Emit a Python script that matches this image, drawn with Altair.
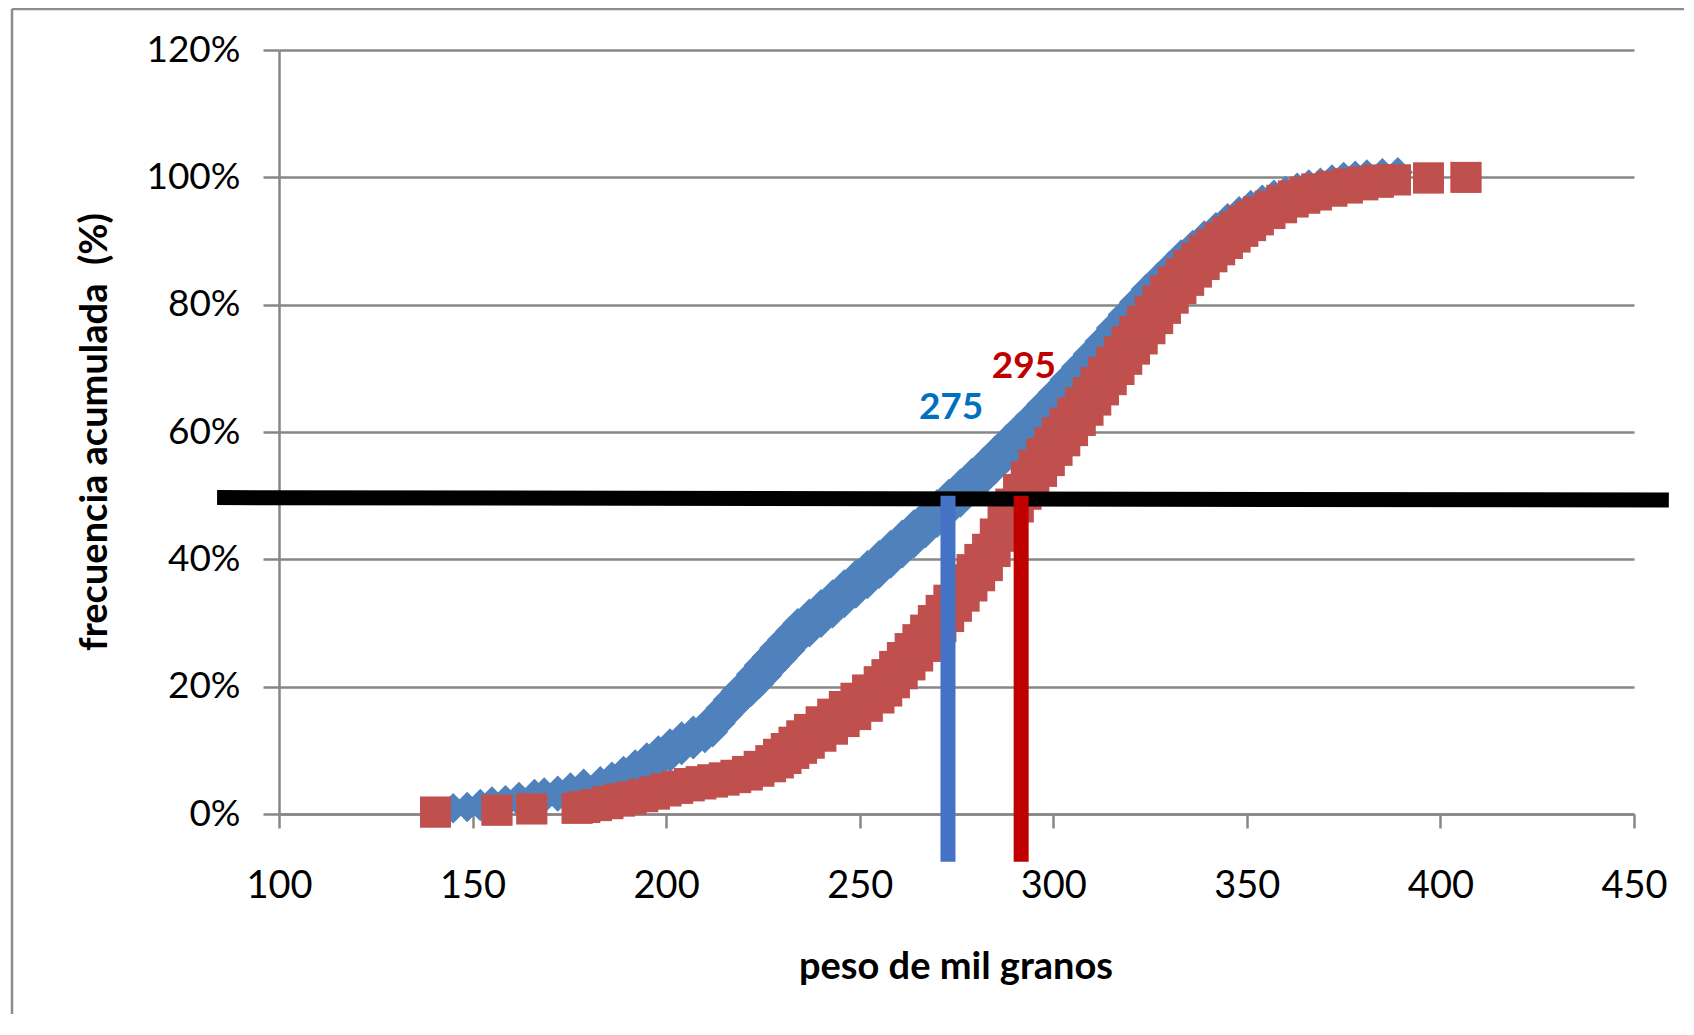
import altair as alt
import pandas as pd

# ---- data ----
# each x carries a vertical run of markers (tied values) from *_lo to *_hi (cumulative %)
blue_x = [145.0, 148.6, 152.0, 155.0, 158.5, 162.0, 166.0, 168.5, 172.0, 175.3, 178.7, 183.0, 186.0, 189.0,
          192.0, 195.0, 198.0, 201.0, 204.0, 207.0, 210.0, 212.0, 214.0, 216.0, 218.0, 220.0, 222.0, 224.0,
          226.0, 228.0, 230.0, 232.0, 234.0, 237.0, 240.0, 243.0, 246.0, 249.0, 252.0, 255.0, 258.0, 261.0,
          264.0, 267.0, 270.0, 273.0, 276.0, 279.0, 282.0, 285.0, 288.0, 291.0, 294.0, 297.0, 300.0, 303.0,
          306.0, 309.0, 312.0, 315.0, 318.0, 321.0, 324.0, 327.0, 330.0, 333.0, 336.0, 339.0, 342.0, 345.0,
          348.0, 351.0, 354.0, 357.0, 360.0, 363.0, 366.0, 369.0, 372.0, 375.0, 378.0, 381.0, 385.0, 389.0]
blue_lo = [0.9, 1.1, 1.2, 1.4, 1.6, 1.9, 2.2, 2.4, 2.7, 3.0, 3.4, 3.8, 4.3, 5.0,
           5.8, 6.7, 7.8, 8.9, 10.0, 10.9, 11.9, 12.8, 14.2, 15.6, 16.9, 18.1, 19.2, 20.4,
           21.7, 23.1, 24.4, 25.7, 27.0, 28.5, 30.0, 31.5, 33.1, 34.6, 36.1, 37.7, 39.3, 40.9,
           42.5, 44.1, 45.7, 47.3, 48.9, 50.6, 52.3, 54.1, 55.9, 57.7, 59.5, 61.4, 63.3, 65.3,
           67.3, 69.3, 71.3, 73.4, 75.5, 77.5, 79.5, 81.5, 83.5, 85.3, 87.0, 88.7, 90.2, 91.6,
           92.9, 94.1, 95.1, 96.1, 96.9, 97.6, 98.1, 98.6, 99.1, 99.5, 99.9, 100.1, 100.3, 100.8]
blue_hi = [0.9, 1.1, 1.6, 2.0, 2.2, 2.7, 3.2, 3.4, 3.7, 4.2, 4.8, 5.2, 5.9, 6.8,
           7.8, 8.9, 10.0, 11.1, 12.2, 13.1, 14.1, 15.2, 16.6, 18.0, 19.3, 20.5, 22.0, 23.4,
           24.7, 26.1, 27.4, 28.7, 30.0, 31.5, 33.0, 34.5, 36.1, 37.6, 39.1, 40.7, 42.3, 43.9,
           45.5, 47.1, 48.7, 50.3, 51.9, 53.6, 55.3, 57.1, 58.9, 60.7, 62.5, 64.4, 66.3, 68.3,
           70.3, 72.3, 74.3, 76.4, 78.5, 80.5, 82.5, 84.3, 86.1, 87.9, 89.4, 90.9, 92.2, 93.6,
           94.7, 95.7, 96.5, 97.3, 97.9, 98.4, 98.9, 99.2, 99.7, 100.1, 100.3, 100.5, 100.7, 100.8]

red_x = [140.4, 156.3, 165.3, 177.0, 179.0, 182.0, 185.0, 188.0, 191.0, 194.0, 197.0, 200.0, 203.0, 206.0,
         209.0, 212.0, 215.0, 218.0, 221.0, 224.0, 227.0, 229.0, 231.0, 233.0, 235.0, 237.0, 240.0, 243.0,
         246.0, 249.0, 252.0, 255.0, 257.0, 259.0, 261.0, 263.0, 265.0, 267.0, 269.0, 271.0, 273.0, 275.0,
         277.0, 279.0, 281.0, 283.0, 285.0, 287.0, 289.0, 291.0, 293.0, 295.0, 297.0, 299.0, 301.0, 303.0,
         305.0, 307.0, 309.0, 311.0, 313.0, 315.0, 317.0, 319.0, 321.0, 323.0, 325.0, 327.0, 329.0, 331.0,
         333.0, 335.0, 337.0, 339.0, 341.0, 343.0, 345.0, 347.0, 349.0, 351.0, 353.0, 356.0, 359.0, 362.0,
         365.0, 368.0, 372.0, 376.0, 380.0, 384.0, 388.4, 396.9, 406.6]
red_lo = [0.3, 0.6, 0.8, 0.9, 1.0, 1.3, 1.6, 2.0, 2.3, 2.7, 3.1, 3.6, 4.0, 4.4,
          4.7, 5.0, 5.3, 5.7, 6.1, 6.7, 7.4, 8.0, 8.7, 9.5, 10.3, 11.1, 12.2, 13.3,
          14.5, 15.6, 16.9, 18.2, 19.3, 20.6, 22.0, 23.4, 24.8, 26.3, 27.8, 29.4, 31.0, 32.6,
          34.2, 35.8, 37.4, 39.0, 41.2, 43.6, 45.9, 48.2, 50.2, 52.0, 53.8, 55.5, 57.1, 58.6,
          60.2, 61.8, 63.4, 65.0, 66.6, 68.2, 69.8, 71.4, 73.0, 74.6, 76.2, 77.8, 79.4, 81.0,
          82.5, 83.8, 85.1, 86.3, 87.5, 88.6, 89.6, 90.6, 91.5, 92.4, 93.3, 94.3, 95.2, 96.1,
          96.7, 97.2, 97.8, 98.3, 98.8, 99.2, 99.6, 99.9, 100.0]
red_hi = [0.3, 0.6, 0.8, 0.9, 1.2, 1.5, 2.0, 2.4, 2.7, 3.1, 3.5, 4.0, 4.4, 4.8,
          5.1, 5.4, 5.7, 6.1, 6.7, 7.5, 8.4, 9.4, 10.3, 11.3, 12.3, 13.3, 14.5, 15.7,
          16.9, 18.2, 19.5, 20.8, 21.9, 23.2, 24.6, 26.0, 27.4, 28.9, 30.4, 32.0, 33.6, 35.2,
          36.8, 38.4, 40.0, 41.6, 44.0, 46.4, 48.7, 51.0, 53.0, 54.8, 56.6, 58.3, 59.9, 61.4,
          63.0, 64.6, 66.2, 67.8, 69.4, 71.0, 72.6, 74.2, 75.8, 77.4, 79.0, 80.6, 82.2, 83.6,
          84.9, 86.2, 87.3, 88.5, 89.5, 90.5, 91.4, 92.2, 93.1, 93.9, 94.6, 95.5, 96.4, 97.1,
          97.7, 98.2, 98.6, 99.0, 99.3, 99.6, 99.6, 99.9, 100.0]

# 50% reference line (extends past the plot)
ref_x = [84.0, 459.0]
ref_y = [49.7, 49.3]

# medians
median_x = [272.8, 291.7]
median_bottom = [-7.5, -7.5]
median_top = [50.0, 50.0]
median_colors = ["#4472C4", "#C00000"]

# labels
label_text = ["275", "295"]
label_x = [273.6, 292.4]
label_y = [63.7, 70.2]
label_colors = ["#0070C0", "#C00000"]

x_ticks = [100, 150, 200, 250, 300, 350, 400, 450]
y_ticks = [0, 20, 40, 60, 80, 100, 120]

GRAY = "#878787"
FONT = "Lato"
BLUE = "#4F81BD"
RED = "#C0504D"

blue_df = pd.DataFrame({"x": blue_x, "lo": blue_lo, "hi": blue_hi})
red_df = pd.DataFrame({"x": red_x, "lo": red_lo, "hi": red_hi})
blue_pts = pd.concat([blue_df[["x", "lo"]].rename(columns={"lo": "y"}),
                      blue_df[["x", "hi"]].rename(columns={"hi": "y"})], ignore_index=True)
red_pts = pd.concat([red_df[["x", "lo"]].rename(columns={"lo": "y"}),
                     red_df[["x", "hi"]].rename(columns={"hi": "y"})], ignore_index=True)
ref_df = pd.DataFrame({"x": [ref_x[0]], "x2": [ref_x[1]], "y": [ref_y[0]], "y2": [ref_y[1]]})
med_df = pd.DataFrame({"x": median_x, "y": median_bottom, "y2": median_top, "c": median_colors})
lab_df = pd.DataFrame({"t": label_text, "x": label_x, "y": label_y, "c": label_colors})

xs = alt.Scale(domain=[100, 450], nice=False, zero=False)
ys = alt.Scale(domain=[0, 120], nice=False, zero=False)

x_axis = alt.Axis(values=x_ticks, grid=False, domainColor=GRAY, domainWidth=2.5,
                  tickColor=GRAY, tickWidth=2.5, tickSize=14,
                  labelFont=FONT, labelFontSize=38, labelColor="black",
                  labelBaseline="alphabetic", labelPadding=69, labelFlush=False,
                  title="peso de mil granos", titleFont=FONT, titleFontSize=38,
                  titleFontWeight="bold", titleColor="black",
                  titleX=676.5, titleY=164, titleAlign="center", titleBaseline="alphabetic")
y_axis = alt.Axis(values=y_ticks, labelExpr="datum.value + '%'", grid=True,
                  gridColor=GRAY, gridWidth=2.5, domainColor=GRAY, domainWidth=2.5,
                  tickColor=GRAY, tickWidth=2.5, tickSize=16,
                  labelFont=FONT, labelFontSize=37, labelColor="black", labelPadding=23,
                  labelFlush=False,
                  title="frecuencia acumulada \u00a0(%)", titleFont=FONT, titleFontSize=38,
                  titleFontWeight="bold", titleColor="black",
                  titleX=-173, titleY=381.5, titleAlign="center", titleBaseline="alphabetic",
                  titleAngle=270)

# axes carrier layer (draws nothing visible itself); the other layers share its axes
axes_layer = alt.Chart(blue_df).mark_point(opacity=0).encode(
    x=alt.X("x:Q", scale=xs, axis=x_axis),
    y=alt.Y("lo:Q", scale=ys, axis=y_axis),
)

frame_df = pd.DataFrame({"a": [0]})
frame_left = alt.Chart(frame_df).mark_rule(color="#8c8c8c", strokeWidth=2.5).encode(
    x=alt.value(-267), y=alt.value(-41), y2=alt.value(1060))
frame_top = alt.Chart(frame_df).mark_rule(color="#8c8c8c", strokeWidth=2.5).encode(
    x=alt.value(-267), x2=alt.value(1430), y=alt.value(-41))

blue_runs = alt.Chart(blue_df).mark_rule(color=BLUE, strokeWidth=30).encode(
    x=alt.X("x:Q", scale=xs),
    y=alt.Y("lo:Q", scale=ys), y2="hi:Q",
)
blue = alt.Chart(blue_pts).mark_point(shape="diamond", filled=True, size=900,
                                      color=BLUE, opacity=1).encode(
    x=alt.X("x:Q", scale=xs),
    y=alt.Y("y:Q", scale=ys),
)

red_runs = alt.Chart(red_df).mark_rule(color=RED, strokeWidth=31).encode(
    x=alt.X("x:Q", scale=xs),
    y=alt.Y("lo:Q", scale=ys), y2="hi:Q",
)
red = alt.Chart(red_pts).mark_point(shape="square", filled=True, size=950,
                                    color=RED, opacity=1).encode(
    x=alt.X("x:Q", scale=xs),
    y=alt.Y("y:Q", scale=ys),
)

ref = alt.Chart(ref_df).mark_rule(color="black", strokeWidth=15).encode(
    x=alt.X("x:Q", scale=xs), x2="x2:Q",
    y=alt.Y("y:Q", scale=ys), y2="y2:Q",
)

med = alt.Chart(med_df).mark_rule(strokeWidth=15).encode(
    x=alt.X("x:Q", scale=xs),
    y=alt.Y("y:Q", scale=ys), y2="y2:Q",
    color=alt.Color("c:N", scale=None, legend=None),
)

labels = alt.Chart(lab_df).mark_text(font=FONT, fontSize=37, fontWeight="bold",
                                     align="center", baseline="middle").encode(
    x=alt.X("x:Q", scale=xs),
    y=alt.Y("y:Q", scale=ys),
    text="t:N",
    color=alt.Color("c:N", scale=None, legend=None),
)

chart = alt.layer(axes_layer, frame_left, frame_top, blue_runs, blue, red_runs, red,
                  ref, med, labels).properties(
    width=1355, height=764,
    autosize=alt.AutoSizeParams(type="none"),
    padding={"left": 271, "top": 42, "right": 50, "bottom": 200},
    background="white",
).configure_view(strokeWidth=0)

chart.save("out.html", embed_options={"renderer": "svg", "actions": False})
